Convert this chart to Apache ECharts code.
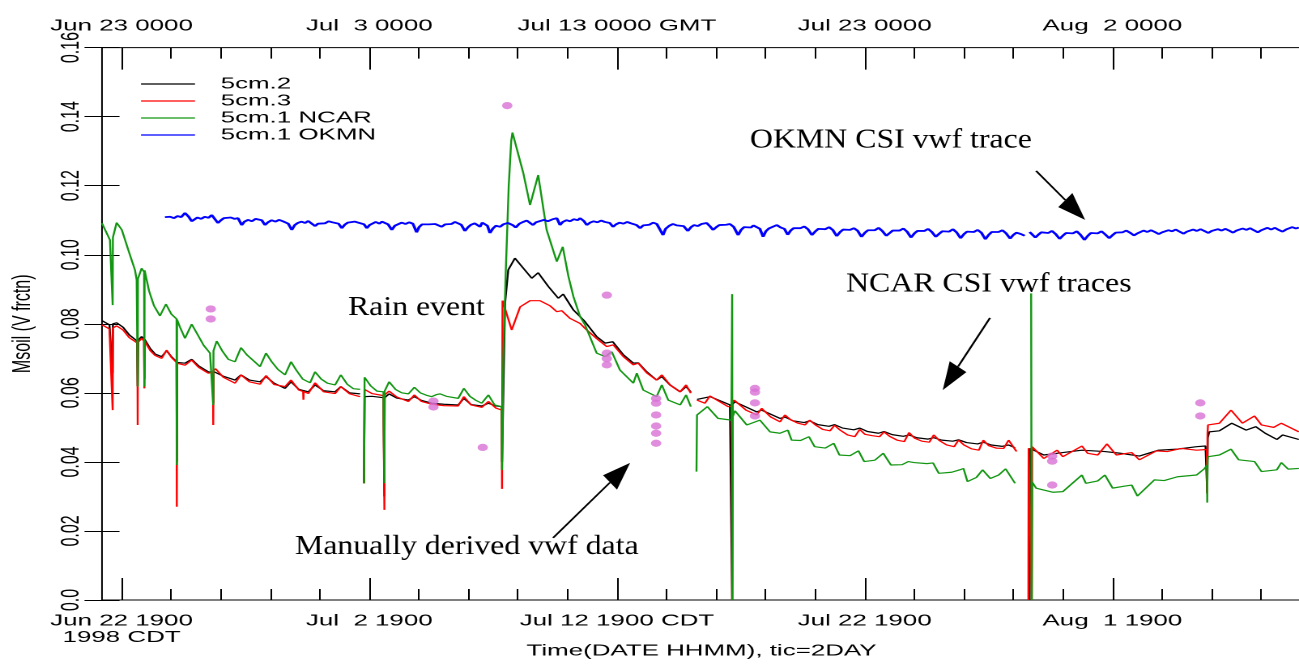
<!DOCTYPE html>
<html>
<head>
<meta charset="utf-8">
<script src="https://cdn.jsdelivr.net/npm/echarts@6/dist/echarts.min.js"></script>
<style>
html,body{margin:0;padding:0;background:#fff;overflow:hidden;width:1299px;height:664px;}
#chart{width:802px;height:664px;transform:scaleX(1.6197007);transform-origin:0 0;}
</style>
</head>
<body>
<div id="chart"></div>
<script>
// x = days since 1998-06-22 00:00 CDT ; y = soil moisture (volumetric fraction)
const seriesNames = ['5cm.2', '5cm.3', '5cm.1 NCAR', '5cm.1 OKMN'];
const majorTickDays = [0.79, 10.79, 20.79, 30.79, 40.79];
const minorTickDays = [0.79, 2.79, 4.79, 6.79, 8.79, 10.79, 12.79, 14.79, 16.79, 18.79, 20.79, 22.79, 24.79, 26.79, 28.79, 30.79, 32.79, 34.79, 36.79, 38.79, 40.79, 42.79, 44.79, 46.79];
const bottomTickLabels = ['Jun 22 1900\n1998 CDT', 'Jul\u00a0 2 1900', 'Jul 12 1900 CDT', 'Jul 22 1900', 'Aug\u00a0 1 1900'];
const topTickLabels = ['Jun 23 0000', 'Jul\u00a0 3 0000', 'Jul 13 0000 GMT', 'Jul 23 0000', 'Aug\u00a0 2 0000'];

const soil5cm2 = [
[0.00,0.0809],[0.30,0.0797],[0.42,0.0797],[0.43,0.0657],[0.44,0.0800],[0.59,0.0803],[0.85,0.0790],[1.10,0.0768],[1.42,0.0750],[1.44,0.0620],[1.46,0.0752],[1.60,0.0763],[1.70,0.0755],[1.71,0.0640],[1.72,0.0755],[1.95,0.0728],[2.15,0.0712],[2.41,0.0705],[2.61,0.0722],[2.80,0.0705],[3.01,0.0690],[3.02,0.0400],[3.03,0.0688],[3.35,0.0686],[3.62,0.0697],[3.90,0.0678],[4.29,0.0661],[4.48,0.0660],[4.49,0.0570],[4.50,0.0662],[4.58,0.0666],[4.90,0.0648],[5.37,0.0637],[5.61,0.0652],[5.95,0.0637],[6.38,0.0632],[6.62,0.0647],[6.95,0.0628],[7.39,0.0613],[7.63,0.0632],[7.95,0.0610],[8.33,0.0603],[8.60,0.0623],[8.95,0.0606],[9.41,0.0603],[9.64,0.0618],[10.00,0.0600],[10.42,0.0597],[10.50,'-'],
[10.58,0.0338],[10.60,0.0589],[10.90,0.0590],[11.36,0.0586],[11.39,0.0586],[11.40,0.0300],[11.41,0.0586],[11.59,0.0597],[11.90,0.0585],[12.37,0.0579],[12.61,0.0589],[12.90,0.0578],[13.31,0.0570],[13.80,0.0567],[14.38,0.0565],[14.61,0.0584],[14.90,0.0566],[15.33,0.0562],[15.60,0.0570],[15.90,0.0562],[16.14,0.0560],[16.15,0.0400],[16.27,0.0859],[16.40,0.0956],[16.67,0.0990],[17.01,0.0961],[17.35,0.0932],[17.61,0.0948],[18.02,0.0908],[18.42,0.0874],[18.62,0.0886],[19.03,0.0840],[19.30,0.0821],[19.50,0.0806],[19.63,0.0811],[19.97,0.0763],[20.31,0.0744],[20.62,0.0748],[21.05,0.0710],[21.45,0.0686],[21.65,0.0687],[21.99,0.0661],[22.39,0.0637],[22.60,0.0647],[22.93,0.0623],[23.34,0.0603],[23.58,0.0618],[23.77,0.0603],[23.85,'-'],
[24.02,0.0581],[24.55,0.0589],[25.35,0.0565],[25.43,0.0565],[25.44,0.0000],[25.45,0.0567],[25.55,0.0574],[26.43,0.0545],[26.63,0.0550],[27.37,0.0526],[27.57,0.0530],[27.90,0.0519],[28.35,0.0514],[28.57,0.0519],[28.90,0.0508],[29.35,0.0503],[29.57,0.0508],[29.90,0.0498],[30.35,0.0493],[30.59,0.0498],[30.90,0.0488],[31.35,0.0483],[31.57,0.0488],[31.90,0.0479],[32.35,0.0474],[32.58,0.0478],[32.90,0.0470],[33.35,0.0466],[33.58,0.0470],[33.90,0.0463],[34.35,0.0460],[34.58,0.0464],[34.90,0.0456],[35.35,0.0452],[35.58,0.0457],[35.90,0.0449],[36.35,0.0445],[36.60,0.0449],[36.86,0.0441],[36.95,'-'],
[37.45,0.0000],[37.47,0.0439],[38.02,0.0420],[38.79,0.0427],[39.56,0.0434],[40.49,0.0430],[41.11,0.0425],[41.88,0.0417],[42.65,0.0434],[43.42,0.0437],[44.19,0.0444],[44.55,0.0446],[44.62,0.0309],[44.64,0.0470],[44.70,0.0487],[45.11,0.0490],[45.61,0.0512],[46.19,0.0492],[46.58,0.0502],[46.96,0.0483],[47.43,0.0465],[47.66,0.0478],[48.32,0.0465]
];

const soil5cm3 = [
[0.00,0.0797],[0.30,0.0785],[0.42,0.0785],[0.43,0.0550],[0.44,0.0788],[0.59,0.0794],[0.85,0.0782],[1.10,0.0760],[1.43,0.0744],[1.44,0.0507],[1.45,0.0746],[1.60,0.0758],[1.70,0.0750],[1.71,0.0613],[1.72,0.0750],[1.95,0.0722],[2.15,0.0708],[2.41,0.0700],[2.61,0.0724],[2.80,0.0703],[3.01,0.0688],[3.02,0.0270],[3.03,0.0686],[3.35,0.0680],[3.62,0.0695],[3.90,0.0674],[4.29,0.0657],[4.48,0.0660],[4.49,0.0507],[4.50,0.0664],[4.58,0.0670],[4.90,0.0645],[5.37,0.0628],[5.61,0.0652],[5.95,0.0632],[6.38,0.0625],[6.62,0.0650],[6.95,0.0624],[7.39,0.0618],[7.63,0.0637],[7.95,0.0608],[8.12,0.0604],[8.13,0.0580],[8.14,0.0604],[8.33,0.0598],[8.60,0.0629],[8.95,0.0603],[9.41,0.0598],[9.64,0.0618],[10.00,0.0597],[10.42,0.0589],[10.50,'-'],
[10.58,0.0338],[10.60,0.0610],[10.90,0.0598],[11.36,0.0592],[11.39,0.0592],[11.40,0.0261],[11.41,0.0594],[11.59,0.0605],[11.90,0.0588],[12.37,0.0575],[12.61,0.0594],[12.90,0.0575],[13.31,0.0567],[13.80,0.0563],[14.38,0.0562],[14.61,0.0589],[14.90,0.0565],[15.33,0.0558],[15.60,0.0575],[15.90,0.0556],[16.14,0.0550],[16.15,0.0322],[16.17,0.0867],[16.54,0.0782],[16.88,0.0849],[17.28,0.0867],[17.68,0.0867],[18.09,0.0852],[18.36,0.0835],[18.56,0.0838],[18.89,0.0816],[19.30,0.0801],[19.57,0.0782],[19.70,0.0787],[20.04,0.0753],[20.38,0.0734],[20.64,0.0739],[21.05,0.0705],[21.45,0.0681],[21.65,0.0686],[21.99,0.0658],[22.39,0.0637],[22.60,0.0652],[22.93,0.0623],[23.34,0.0603],[23.58,0.0623],[23.77,0.0599],[23.85,'-'],
[24.02,0.0579],[24.34,0.0570],[24.54,0.0591],[25.28,0.0560],[25.43,0.0562],[25.44,0.0000],[25.45,0.0570],[25.52,0.0579],[26.00,0.0550],[26.43,0.0536],[26.63,0.0555],[27.00,0.0530],[27.37,0.0516],[27.57,0.0536],[27.80,0.0522],[28.10,0.0512],[28.38,0.0507],[28.57,0.0521],[28.80,0.0507],[29.10,0.0494],[29.39,0.0490],[29.57,0.0506],[29.80,0.0492],[30.10,0.0478],[30.39,0.0473],[30.59,0.0494],[30.80,0.0480],[31.10,0.0476],[31.39,0.0473],[31.57,0.0487],[31.80,0.0474],[32.10,0.0463],[32.39,0.0459],[32.58,0.0485],[32.80,0.0469],[33.10,0.0460],[33.40,0.0457],[33.58,0.0478],[33.80,0.0462],[34.10,0.0449],[34.40,0.0444],[34.58,0.0463],[34.80,0.0449],[35.10,0.0438],[35.40,0.0434],[35.58,0.0463],[35.80,0.0447],[36.10,0.0440],[36.40,0.0439],[36.60,0.0463],[36.92,0.0430],[36.95,'-'],
[37.40,0.0000],[37.41,0.0440],[37.53,0.0442],[37.54,0.0000],[37.55,0.0444],[38.02,0.0410],[38.56,0.0434],[38.79,0.0415],[39.56,0.0446],[39.79,0.0425],[40.20,0.0420],[40.57,0.0452],[40.95,0.0420],[41.57,0.0427],[41.88,0.0406],[42.57,0.0432],[43.00,0.0430],[43.57,0.0439],[44.19,0.0434],[44.60,0.0436],[44.62,0.0309],[44.63,0.0480],[44.65,0.0507],[45.11,0.0512],[45.58,0.0550],[46.04,0.0512],[46.53,0.0533],[46.81,0.0507],[47.30,0.0500],[47.61,0.0512],[48.32,0.0487]
];

const ncar5cm1 = [
[0.00,0.1091],[0.32,0.1043],[0.42,0.1040],[0.43,0.0854],[0.44,0.1050],[0.59,0.1093],[0.80,0.1072],[1.06,0.1014],[1.33,0.0956],[1.40,0.0927],[1.43,0.0925],[1.44,0.0618],[1.45,0.0930],[1.60,0.0961],[1.70,0.0950],[1.71,0.0618],[1.72,0.0955],[1.90,0.0895],[2.10,0.0852],[2.34,0.0823],[2.58,0.0857],[2.80,0.0828],[3.01,0.0814],[3.02,0.0391],[3.03,0.0812],[3.15,0.0790],[3.35,0.0758],[3.62,0.0799],[3.85,0.0770],[4.10,0.0738],[4.36,0.0715],[4.48,0.0718],[4.49,0.0565],[4.50,0.0722],[4.63,0.0750],[4.85,0.0722],[5.10,0.0697],[5.37,0.0690],[5.61,0.0731],[5.85,0.0710],[6.10,0.0694],[6.38,0.0676],[6.62,0.0715],[6.85,0.0690],[7.10,0.0668],[7.39,0.0652],[7.63,0.0690],[7.85,0.0665],[8.10,0.0640],[8.40,0.0629],[8.60,0.0661],[8.85,0.0640],[9.10,0.0628],[9.41,0.0623],[9.64,0.0652],[9.90,0.0625],[10.15,0.0612],[10.42,0.0610],[10.50,'-'],
[10.58,0.0338],[10.60,0.0645],[10.85,0.0620],[11.10,0.0605],[11.36,0.0603],[11.39,0.0600],[11.40,0.0338],[11.41,0.0605],[11.59,0.0632],[11.85,0.0610],[12.10,0.0600],[12.37,0.0597],[12.61,0.0616],[12.85,0.0600],[13.10,0.0593],[13.31,0.0589],[13.50,0.0595],[13.65,0.0597],[13.90,0.0590],[14.38,0.0584],[14.61,0.0613],[14.85,0.0590],[15.10,0.0578],[15.33,0.0570],[15.60,0.0594],[15.85,0.0565],[16.14,0.0560],[16.15,0.0377],[16.20,0.0700],[16.30,0.0950],[16.42,0.1200],[16.52,0.1330],[16.57,0.1354],[17.01,0.1236],[17.28,0.1144],[17.61,0.1231],[17.95,0.1072],[18.36,0.0980],[18.60,0.1023],[18.83,0.0937],[19.03,0.0879],[19.30,0.0821],[19.50,0.0797],[19.63,0.0801],[19.97,0.0715],[20.31,0.0705],[20.58,0.0719],[20.91,0.0666],[21.45,0.0628],[21.59,0.0657],[21.85,0.0608],[22.39,0.0589],[22.60,0.0623],[22.86,0.0579],[23.34,0.0565],[23.58,0.0594],[23.77,0.0560],[23.85,'-'],
[24.00,0.0372],[24.02,0.0536],[24.44,0.0560],[24.87,0.0526],[25.41,0.0521],[25.43,0.0521],[25.44,0.0886],[25.45,0.0000],[25.46,0.0530],[25.55,0.0548],[26.03,0.0507],[26.56,0.0521],[26.97,0.0487],[27.37,0.0483],[27.69,0.0492],[27.84,0.0463],[28.20,0.0462],[28.54,0.0473],[28.77,0.0444],[29.20,0.0440],[29.54,0.0454],[29.77,0.0420],[30.20,0.0418],[30.54,0.0432],[30.77,0.0401],[31.20,0.0405],[31.54,0.0425],[31.85,0.0391],[32.30,0.0392],[32.55,0.0401],[32.78,0.0398],[33.30,0.0395],[33.55,0.0397],[33.78,0.0367],[34.30,0.0370],[34.63,0.0377],[34.78,0.0381],[34.94,0.0343],[35.30,0.0355],[35.55,0.0377],[35.86,0.0352],[36.20,0.0362],[36.48,0.0380],[36.86,0.0338],[36.95,'-'],
[37.51,0.0888],[37.53,0.0000],[37.55,0.0342],[37.71,0.0324],[38.40,0.0312],[38.79,0.0314],[39.56,0.0362],[39.72,0.0338],[40.20,0.0345],[40.49,0.0362],[40.80,0.0324],[41.30,0.0330],[41.57,0.0333],[41.80,0.0301],[42.49,0.0348],[42.88,0.0346],[43.42,0.0357],[44.19,0.0362],[44.50,0.0380],[44.61,0.0390],[44.62,0.0282],[44.63,0.0405],[44.65,0.0415],[45.11,0.0420],[45.58,0.0437],[45.89,0.0406],[46.53,0.0401],[46.81,0.0372],[47.43,0.0377],[47.61,0.0398],[47.89,0.0379],[48.32,0.0381]
];

const okmn5cm1 = [
[2.54,0.1109],[2.62,0.1104],[2.75,0.1110],[2.90,0.1106],
[3.05,0.1112],[3.20,0.1109],[3.35,0.1121],[3.50,0.1110],[3.62,0.1097],[3.72,0.1102],[3.85,0.1108],
[4.00,0.1104],[4.15,0.1110],[4.30,0.1107],[4.43,0.1115],[4.55,0.1104],[4.68,0.1092],[4.80,0.1100],[4.92,0.1106],
[5.05,0.1103],[5.20,0.1108],[5.35,0.1104],[5.49,0.1106],[5.64,0.1086],[5.75,0.1096],[5.90,0.1101],
[6.05,0.1097],[6.20,0.1104],[6.30,0.1106],[6.45,0.1100],[6.58,0.1086],[6.70,0.1094],[6.85,0.1100],
[7.00,0.1096],[7.15,0.1101],[7.30,0.1097],[7.39,0.1098],[7.52,0.1090],[7.66,0.1072],[7.78,0.1086],[7.90,0.1092],
[8.05,0.1096],[8.20,0.1092],[8.32,0.1098],[8.45,0.1094],[8.60,0.1083],[8.72,0.1090],[8.85,0.1095],
[9.00,0.1091],[9.15,0.1097],[9.30,0.1094],[9.41,0.1098],[9.55,0.1090],[9.68,0.1077],[9.80,0.1087],[9.92,0.1093],
[10.05,0.1090],[10.20,0.1096],[10.35,0.1093],[10.48,0.1098],[10.58,0.1088],[10.69,0.1077],[10.80,0.1086],[10.92,0.1091],
[11.05,0.1095],[11.20,0.1090],[11.30,0.1096],[11.43,0.1098],[11.55,0.1088],[11.70,0.1072],[11.82,0.1084],[11.95,0.1089],
[12.10,0.1093],[12.25,0.1089],[12.40,0.1094],[12.55,0.1090],[12.64,0.1092],[12.70,0.1065],[12.80,0.1080],[12.92,0.1088],
[13.05,0.1092],[13.20,0.1088],[13.31,0.1092],[13.45,0.1089],[13.58,0.1086],[13.71,0.1081],[13.85,0.1088],[13.95,0.1092],
[14.10,0.1089],[14.25,0.1095],[14.37,0.1098],[14.50,0.1087],[14.65,0.1069],[14.78,0.1080],[14.90,0.1087],
[15.05,0.1091],[15.15,0.1086],[15.26,0.1081],[15.35,0.1093],[15.46,0.1098],[15.56,0.1084],[15.66,0.1063],[15.78,0.1076],[15.90,0.1084],
[16.07,0.1081],[16.20,0.1088],[16.39,0.1092],[16.47,0.1091],[16.60,0.1085],[16.70,0.1079],[16.85,0.1090],
[17.00,0.1095],[17.15,0.1099],[17.28,0.1101],[17.40,0.1086],[17.52,0.1094],[17.70,0.1098],[17.85,0.1101],
[18.00,0.1097],[18.20,0.1103],[18.36,0.1106],[18.49,0.1086],[18.60,0.1095],[18.75,0.1100],[18.90,0.1097],
[19.05,0.1103],[19.20,0.1100],[19.30,0.1106],[19.45,0.1098],[19.57,0.1086],[19.70,0.1093],[19.85,0.1097],
[20.00,0.1094],[20.15,0.1099],[20.30,0.1095],[20.38,0.1098],[20.50,0.1092],[20.63,0.1081],[20.75,0.1088],[20.90,0.1093],
[21.05,0.1090],[21.20,0.1095],[21.35,0.1091],[21.44,0.1092],[21.58,0.1086],[21.72,0.1077],[21.85,0.1085],[21.95,0.1090],
[22.10,0.1087],[22.25,0.1093],[22.40,0.1089],[22.53,0.1092],[22.65,0.1057],[22.75,0.1075],[22.90,0.1084],
[23.05,0.1089],[23.20,0.1085],[23.33,0.1086],[23.48,0.1083],[23.65,0.1069],[23.78,0.1080],[23.90,0.1086],
[24.05,0.1083],[24.20,0.1089],[24.30,0.1085],[24.41,0.1092],[24.55,0.1082],[24.67,0.1072],[24.80,0.1080],[24.92,0.1086],
[25.05,0.1082],[25.20,0.1087],[25.35,0.1089],[25.50,0.1081],[25.68,0.1057],[25.80,0.1072],[25.92,0.1080],
[26.05,0.1084],[26.20,0.1079],[26.30,0.1085],[26.43,0.1086],[26.56,0.1075],[26.69,0.1052],[26.80,0.1068],[26.92,0.1076],
[27.05,0.1080],[27.24,0.1086],[27.40,0.1079],[27.55,0.1075],[27.68,0.1058],[27.80,0.1070],[27.92,0.1077],
[28.05,0.1081],[28.20,0.1077],[28.35,0.1082],[28.50,0.1074],[28.66,0.1057],[28.80,0.1068],[28.92,0.1075],
[29.05,0.1079],[29.20,0.1074],[29.35,0.1080],[29.50,0.1072],[29.66,0.1054],[29.80,0.1066],[29.92,0.1073],
[30.05,0.1078],[30.20,0.1072],[30.35,0.1077],[30.50,0.1070],[30.66,0.1052],[30.80,0.1064],[30.92,0.1071],
[31.05,0.1076],[31.20,0.1071],[31.35,0.1078],[31.50,0.1069],[31.66,0.1055],[31.80,0.1063],[31.92,0.1070],
[32.05,0.1075],[32.20,0.1070],[32.35,0.1076],[32.50,0.1067],[32.66,0.1050],[32.80,0.1062],[32.92,0.1069],
[33.05,0.1074],[33.20,0.1069],[33.35,0.1075],[33.50,0.1066],[33.66,0.1052],[33.80,0.1061],[33.92,0.1068],
[34.05,0.1072],[34.20,0.1067],[34.35,0.1074],[34.50,0.1065],[34.66,0.1048],[34.80,0.1060],[34.92,0.1067],
[35.05,0.1071],[35.20,0.1066],[35.35,0.1072],[35.50,0.1064],[35.66,0.1045],[35.80,0.1058],[35.92,0.1066],
[36.05,0.1070],[36.20,0.1066],[36.35,0.1071],[36.50,0.1062],[36.66,0.1047],[36.80,0.1058],[36.92,0.1064],[37.10,0.1060],[37.25,0.1055],[37.30,'-'],
[37.45,0.1066],[37.55,0.1062],[37.68,0.1050],[37.80,0.1058],[37.92,0.1065],
[38.05,0.1068],[38.20,0.1063],[38.35,0.1069],[38.50,0.1060],[38.66,0.1046],[38.80,0.1056],[38.92,0.1063],
[39.05,0.1067],[39.20,0.1062],[39.35,0.1068],[39.50,0.1058],[39.66,0.1043],[39.80,0.1055],[39.92,0.1063],
[40.05,0.1067],[40.20,0.1062],[40.35,0.1068],[40.50,0.1059],[40.66,0.1048],[40.80,0.1057],[40.92,0.1064],
[41.05,0.1069],[41.20,0.1065],[41.35,0.1070],[41.50,0.1064],[41.66,0.1056],[41.80,0.1062],[41.92,0.1067],
[42.05,0.1070],[42.20,0.1066],[42.35,0.1071],[42.50,0.1066],[42.66,0.1060],[42.80,0.1065],[42.92,0.1069],
[43.05,0.1071],[43.20,0.1068],[43.35,0.1073],[43.50,0.1067],[43.66,0.1061],[43.80,0.1067],[43.92,0.1071],
[44.05,0.1073],[44.20,0.1069],[44.35,0.1074],[44.50,0.1069],[44.66,0.1063],[44.80,0.1069],[44.92,0.1072],
[45.05,0.1074],[45.20,0.1070],[45.35,0.1075],[45.50,0.1070],[45.66,0.1064],[45.80,0.1070],[45.92,0.1074],
[46.05,0.1076],[46.20,0.1072],[46.35,0.1077],[46.50,0.1071],[46.66,0.1065],[46.80,0.1071],[46.92,0.1075],
[47.05,0.1078],[47.20,0.1073],[47.35,0.1078],[47.50,0.1072],[47.66,0.1067],[47.80,0.1073],[47.92,0.1077],
[48.05,0.1080],[48.20,0.1076],[48.32,0.1079]
];

const manualVwf = [
[4.39,0.0843],[4.39,0.0814],[13.38,0.0576],[13.38,0.0559],[15.37,0.0442],[16.36,0.1432],[20.38,0.0883],[20.38,0.0715],[20.38,0.0699],[20.38,0.0681],
[22.37,0.0584],[22.37,0.0570],[22.37,0.0536],[22.37,0.0504],[22.37,0.0483],[22.37,0.0454],[26.36,0.0613],[26.36,0.0602],[26.36,0.0571],[26.36,0.0533],
[38.36,0.0417],[38.36,0.0402],[38.36,0.0333],[44.34,0.0571],[44.34,0.0533]
];

const annotationTexts = ['Rain event', 'OKMN CSI vwf trace', 'NCAR CSI vwf traces', 'Manually derived vwf data'];
const annotationAnchors = [[9.93,0.0847],[26.16,0.1332],[30.04,0.0915],[7.79,0.0154]];
const arrowTails = [[37.71,0.1243],[35.85,0.0817],[18.21,0.0180]];
const arrowTips = [[39.69,0.1101],[33.94,0.0608],[21.32,0.0397]];

// ---------- layout (inner, un-stretched coordinates) ----------
const INNER_W = 802;
const S = 1299 / INNER_W;              // horizontal stretch of the original plot
const gridLeft = 102 / S;
const gridWidth = (1301 - 102) / S;
const dayPx = 24.77 / S;
const xMax = gridWidth / dayPx;
const SANS = '"Liberation Sans", Arial, Helvetica, sans-serif';
const txt = {color: '#000', fontSize: 16, fontFamily: SANS};

function tickLabel(list) {
  return function (v) {
    const i = Math.round((v - majorTickDays[0]) / 10);
    return list[i] !== undefined ? list[i] : '';
  };
}

const xBase = {type: 'value', min: 0, max: xMax, axisLine: {show: false}, splitLine: {show: false}};
const chart = echarts.init(document.getElementById('chart'), null, {renderer: 'canvas', devicePixelRatio: 2});

const colors = ['#000000', '#ff0000', '#129612', '#0000ff'];
const lineData = [soil5cm2, soil5cm3, ncar5cm1, okmn5cm1];

chart.setOption({
  animation: false,
  backgroundColor: '#ffffff',
  grid: {left: gridLeft, width: gridWidth, top: 47.6, bottom: 64, show: true, borderColor: '#000', borderWidth: 1, backgroundColor: 'transparent', containLabel: false, outerBoundsMode: 'none'},
  legend: {
    orient: 'vertical', left: 141 / S, top: 84 - 8.5, padding: 0,
    icon: 'rect', itemWidth: 54 / S, itemHeight: 1.2, itemGap: 0,
    data: seriesNames, selectedMode: false,
    textStyle: Object.assign({lineHeight: 17, padding: [0, 0, 0, 10.8]}, txt)
  },
  xAxis: [
    Object.assign({}, xBase, {
      position: 'bottom',
      axisTick: {show: true, inside: true, length: 22, customValues: majorTickDays, lineStyle: {color: '#000', width: 1}},
      axisLabel: Object.assign({show: true, customValues: majorTickDays, formatter: tickLabel(bottomTickLabels), margin: 13, lineHeight: 16.5}, txt),
      name: 'Time(DATE HHMM), tic=2DAY', nameLocation: 'middle', nameGap: 43, nameMoveOverlap: false,
      nameTextStyle: txt
    }),
    Object.assign({}, xBase, {
      position: 'bottom',
      axisTick: {show: true, inside: true, length: 11, customValues: minorTickDays, lineStyle: {color: '#000', width: 1}},
      axisLabel: {show: false}
    }),
    Object.assign({}, xBase, {
      position: 'top',
      axisTick: {show: true, inside: true, length: 22, customValues: majorTickDays, lineStyle: {color: '#000', width: 1}},
      axisLabel: Object.assign({show: true, customValues: majorTickDays, formatter: tickLabel(topTickLabels), margin: 13, lineHeight: 17}, txt)
    }),
    Object.assign({}, xBase, {
      position: 'top',
      axisTick: {show: true, inside: true, length: 11, customValues: minorTickDays, lineStyle: {color: '#000', width: 1}},
      axisLabel: {show: false}
    })
  ],
  yAxis: [
    {
      type: 'value', position: 'left', min: 0, max: 0.16, interval: 0.02,
      axisLine: {show: false}, splitLine: {show: false},
      axisTick: {show: true, inside: true, length: 17.5 / S, lineStyle: {color: '#000', width: 1}},
      axisLabel: Object.assign({rotate: 90, margin: 11, showMinLabel: true, showMaxLabel: true,
        formatter: v => (Math.abs(v) < 1e-9 ? '0.0' : v.toFixed(2))}, txt),
      name: 'Msoil (V frctn)', nameLocation: 'middle', nameGap: 41, nameTextStyle: txt
    },
    {
      type: 'value', position: 'right', min: 0, max: 0.16, interval: 0.02,
      axisLine: {show: false}, splitLine: {show: false},
      axisTick: {show: true, inside: true, length: 17.5 / S, lineStyle: {color: '#000', width: 1}},
      axisLabel: {show: false}
    }
  ],
  series: seriesNames.map((n, i) => ({
    name: n, type: 'line', data: lineData[i], xAxisIndex: 0, yAxisIndex: 0,
    showSymbol: false, symbol: 'none', connectNulls: false, smooth: false,
    color: colors[i],
    lineStyle: {color: colors[i], width: i === 3 ? 1.8 : 1.2},
    emphasis: {disabled: true}, z: 2 + i
  })).concat([{
    name: 'Manually derived vwf', type: 'scatter', data: manualVwf, xAxisIndex: 0, yAxisIndex: 0,
    symbol: 'circle', symbolSize: [6.4, 7.2], itemStyle: {color: '#da70d6'}, z: 10,
    emphasis: {disabled: true}
  }])
});

// ---------- annotations (text + arrows), anchored in data coordinates ----------
const toPx = p => chart.convertToPixel({xAxisIndex: 0, yAxisIndex: 0}, p);
const graphics = [];
annotationTexts.forEach((t, i) => {
  const p = toPx(annotationAnchors[i]);
  graphics.push({
    type: 'text', x: p[0], y: p[1], scaleX: 1.153 / S, z: 100,
    style: {text: t, font: '27.6px "Liberation Serif", "Times New Roman", Times, serif', fill: '#000', align: 'left', verticalAlign: 'middle'}
  });
});
arrowTails.forEach((tail, i) => {
  const a = toPx(tail), b = toPx(arrowTips[i]);
  const A = [a[0] * S, a[1]], B = [b[0] * S, b[1]];
  const dx = B[0] - A[0], dy = B[1] - A[1], len = Math.hypot(dx, dy);
  const ux = dx / len, uy = dy / len, L = 28, H = 10;
  const base = [B[0] - ux * L, B[1] - uy * L];
  const c1 = [base[0] - uy * H, base[1] + ux * H], c2 = [base[0] + uy * H, base[1] - ux * H];
  const inner = q => [q[0] / S, q[1]];
  graphics.push({type: 'polyline', z: 100, shape: {points: [inner(A), inner(base)]}, style: {stroke: '#000', lineWidth: 1.3, fill: null}});
  graphics.push({type: 'polygon', z: 100, shape: {points: [inner(B), inner(c1), inner(c2)]}, style: {fill: '#000'}});
});
chart.setOption({graphic: graphics});
</script>
</body>
</html>
